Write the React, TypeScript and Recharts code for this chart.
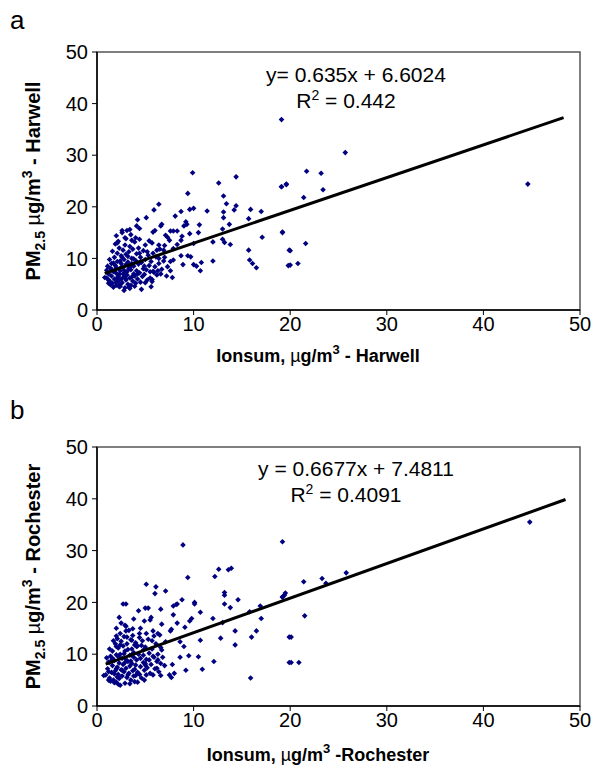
import React from 'react';
import { ScatterChart, Scatter, XAxis, YAxis, ReferenceArea } from 'recharts';

const ticks = [0, 10, 20, 30, 40, 50];

// Panel a (Harwell): [Ionsum, PM2.5]
const harwellOuter: [number, number][] = [
  [9.9, 26.6], [14.4, 25.8], [12.6, 24.6], [9.4, 22.6], [6.4, 20.5], [5.9, 19.4], [13.1, 22.1], [13.4, 20.6],
  [14.4, 20.2], [14.2, 19.4], [13.1, 19.0], [11.4, 19.2], [9.6, 19.5], [10.0, 19.7], [8.7, 19.1], [8.1, 18.2],
  [13.1, 17.9], [15.9, 19.5], [17.0, 19.1], [15.7, 17.7], [19.1, 23.9], [19.6, 24.3], [19.2, 15.0], [19.9, 11.6],
  [19.8, 8.6], [17.1, 14.1], [15.7, 11.6], [15.8, 9.7], [16.1, 9.0], [16.5, 8.2], [13.8, 12.7], [13.0, 13.7],
  [13.2, 13.1], [12.0, 13.2], [12.0, 9.5], [13.7, 16.6], [13.0, 15.7], [10.6, 16.5], [10.5, 15.0], [9.2, 17.1],
  [9.0, 16.3], [9.3, 16.6], [9.6, 14.8], [10.0, 12.9], [9.4, 10.5], [9.7, 10.3], [8.9, 8.8], [10.0, 8.8],
  [10.3, 8.5], [10.8, 9.2], [10.7, 7.6], [8.7, 10.5], [8.7, 13.5], [8.8, 14.3], [8.3, 12.7], [7.9, 11.9],
  [7.6, 15.3], [8.3, 15.3], [7.9, 15.3], [7.3, 14.1], [7.5, 13.5], [7.1, 14.5], [6.7, 16.6], [6.6, 16.3],
  [6.0, 15.4], [5.8, 15.1], [5.1, 17.9], [4.2, 17.5], [4.1, 16.3], [3.4, 15.6], [2.6, 15.4], [3.1, 15.4],
  [2.9, 14.0], [3.6, 13.5], [4.4, 13.7], [2.1, 13.0], [5.4, 13.4], [5.7, 13.0], [6.4, 12.6], [6.9, 11.6],
  [6.2, 11.6], [5.2, 11.3], [6.4, 10.0], [7.0, 10.2], [7.6, 9.4], [7.9, 9.7], [7.3, 8.4], [7.6, 7.6],
  [7.2, 6.6], [7.8, 6.3], [6.6, 7.0], [5.7, 5.9], [5.8, 7.5], [5.6, 4.5], [5.0, 5.3], [3.4, 4.2],
  [2.3, 4.5], [1.2, 5.2], [0.8, 6.3], [1.0, 7.7],
  [44.6, 24.4], [19.1, 36.9], [25.7, 30.5], [21.7, 26.9], [23.2, 26.5], [23.4, 23.3], [19.1, 23.9], [19.6, 24.4],
  [21.4, 21.8], [19.2, 15.1], [20.0, 11.5], [21.6, 12.9], [20.0, 8.7], [20.8, 9.0],
];

const harwellCluster: [number, number][] = [
  [1.0, 6.2], [1.2, 7.0], [1.3, 5.6], [1.4, 8.1], [1.5, 6.6], [1.5, 9.0], [1.6, 5.2], [1.7, 7.4], [1.8, 10.2],
  [1.8, 6.0], [1.9, 8.6], [2.0, 4.8], [2.0, 7.1], [2.1, 11.0], [2.1, 9.4], [2.2, 5.6], [2.2, 6.5], [2.3, 8.0],
  [2.3, 12.0], [2.4, 7.6], [2.4, 4.6], [2.5, 10.5], [2.5, 9.0], [2.5, 6.0], [2.6, 5.3], [2.6, 8.4], [2.7, 11.6],
  [2.7, 7.0], [2.8, 6.4], [2.8, 9.8], [2.9, 4.3], [2.9, 12.6], [3.0, 8.8], [3.0, 5.8], [3.0, 10.8], [3.1, 7.4],
  [3.1, 6.8], [3.2, 9.3], [3.2, 5.0], [3.3, 11.3], [3.3, 8.0], [3.4, 6.2], [3.4, 12.3], [3.5, 7.8], [3.5, 4.8],
  [3.6, 10.0], [3.6, 9.0], [3.7, 5.6], [3.7, 11.8], [3.8, 7.0], [3.8, 8.5], [3.9, 6.6], [3.9, 13.2], [4.0, 9.6],
  [4.0, 5.2], [4.1, 10.9], [4.1, 7.6], [4.2, 6.0], [4.3, 8.9], [4.3, 12.0], [4.4, 7.2], [4.5, 5.4], [4.5, 10.2],
  [4.6, 9.2], [4.7, 6.5], [4.8, 11.5], [4.8, 8.0], [4.9, 6.9], [5.0, 9.8], [5.0, 12.6], [5.1, 7.8], [5.2, 5.8],
  [5.3, 10.6], [5.4, 8.6], [5.5, 6.2], [5.6, 9.4], [5.8, 11.0], [5.9, 7.3], [6.0, 8.4], [6.1, 10.3], [6.2, 6.8],
  [6.4, 9.0], [6.5, 11.8], [6.7, 7.9], [6.9, 9.5], [7.0, 12.5], [1.1, 8.5], [1.3, 9.8], [1.6, 11.4], [1.9, 12.8],
  [2.2, 13.3], [2.0, 14.4], [2.6, 15.0], [3.0, 13.8], [3.5, 14.6], [4.0, 14.0], [4.4, 15.8], [1.4, 4.9], [1.7, 4.4],
  [2.4, 5.0], [3.3, 4.4], [3.9, 4.6], [4.6, 4.0], [2.8, 3.8], [1.2, 5.8], [2.1, 6.2], [2.9, 6.9], [3.6, 6.4],
  [4.2, 7.0], [2.4, 9.5], [3.2, 10.4], [4.4, 11.0], [2.0, 8.2], [2.8, 7.7], [3.4, 8.3], [1.7, 9.1], [3.8, 9.9],
  [2.6, 10.2], [1.5, 7.9], [2.3, 6.9], [3.0, 6.0], [4.9, 8.5], [5.5, 7.4], [6.3, 7.6], [5.7, 5.5], [2.0, 5.4],
  [1.8, 7.6],
];

// Panel b (Rochester)
const rochesterOuter: [number, number][] = [
  [9.4, 24.8], [5.1, 23.5], [6.1, 23.0], [6.0, 21.7], [7.1, 22.2], [12.6, 26.4], [12.2, 25.0], [13.6, 26.3],
  [13.9, 26.6], [13.2, 21.9], [13.2, 21.4], [14.6, 20.5], [13.2, 19.7], [13.8, 19.0], [15.8, 18.2], [16.9, 19.3],
  [17.0, 16.9], [19.2, 21.0], [19.4, 21.4], [19.9, 13.3], [19.9, 8.4], [15.9, 5.4], [16.0, 13.3], [16.5, 14.5],
  [14.3, 14.5], [14.3, 11.8], [12.8, 13.1], [13.0, 16.1], [12.0, 16.9], [12.1, 8.6], [10.9, 7.1], [10.5, 9.5],
  [10.7, 12.7], [10.1, 20.0], [10.1, 19.7], [10.7, 18.1], [9.8, 16.9], [9.6, 16.4], [9.1, 15.2], [8.8, 20.5],
  [8.2, 19.6], [8.3, 19.7], [7.9, 19.3], [7.9, 17.6], [8.3, 16.0], [7.7, 14.8], [7.6, 14.5], [8.6, 12.4],
  [9.0, 11.5], [8.6, 9.4], [9.5, 9.7], [9.2, 6.9], [7.8, 8.0], [7.5, 6.0], [7.7, 5.5], [8.0, 6.3],
  [6.6, 5.9], [6.6, 8.2], [6.3, 8.9], [6.2, 7.3], [6.7, 10.8], [6.5, 13.7], [6.7, 15.8], [6.6, 18.7],
  [5.0, 18.9], [5.3, 18.9], [4.3, 18.4], [4.9, 16.4], [5.5, 16.6], [5.6, 17.1], [5.8, 14.5], [6.3, 14.0],
  [5.1, 14.0], [5.7, 12.6], [3.0, 19.7], [2.7, 19.7], [2.3, 17.1], [2.9, 15.6], [3.0, 14.5], [3.7, 14.9],
  [4.4, 14.0], [4.1, 11.5], [4.8, 9.8], [5.4, 8.9], [5.9, 9.4], [5.0, 7.9], [5.8, 6.0], [5.1, 6.0],
  [4.9, 5.0], [3.9, 4.7], [3.8, 5.8], [2.2, 4.2], [1.8, 4.5], [1.2, 5.0], [0.7, 5.9], [1.0, 9.3],
  [1.3, 8.4], [2.0, 13.5], [2.0, 11.5], [3.6, 12.7], [8.9, 31.1],
  [44.8, 35.5], [19.2, 31.7], [21.4, 24.0], [23.3, 24.6], [23.7, 23.7], [25.8, 25.7], [19.2, 21.1], [19.5, 21.8],
  [21.5, 17.4], [20.1, 13.3], [20.1, 8.4], [20.9, 8.4],
];

const rochesterCluster: [number, number][] = [
  [0.9, 6.0], [1.1, 7.2], [1.2, 8.5], [1.3, 5.4], [1.4, 9.6], [1.5, 6.5], [1.6, 7.8], [1.6, 10.6], [1.7, 5.0],
  [1.8, 8.8], [1.9, 6.8], [1.9, 12.0], [2.0, 4.6], [2.0, 9.9], [2.1, 7.5], [2.1, 13.0], [2.2, 6.1], [2.2, 11.2],
  [2.3, 8.3], [2.3, 5.3], [2.4, 10.0], [2.4, 14.0], [2.5, 7.0], [2.5, 12.5], [2.6, 9.2], [2.6, 5.8], [2.7, 11.6],
  [2.7, 8.0], [2.8, 6.6], [2.8, 13.4], [2.9, 10.6], [2.9, 4.4], [3.0, 9.0], [3.0, 7.3], [3.1, 12.0], [3.1, 5.5],
  [3.2, 8.6], [3.2, 10.9], [3.3, 6.3], [3.3, 14.6], [3.4, 9.8], [3.4, 7.7], [3.5, 12.8], [3.5, 5.0], [3.6, 11.0],
  [3.6, 8.2], [3.7, 6.8], [3.7, 13.6], [3.8, 9.4], [3.8, 10.3], [3.9, 7.1], [4.0, 12.2], [4.0, 5.9], [4.1, 8.9],
  [4.2, 11.6], [4.2, 6.5], [4.3, 10.0], [4.4, 13.2], [4.5, 7.6], [4.5, 9.2], [4.6, 5.4], [4.7, 12.6], [4.8, 8.4],
  [4.8, 10.8], [4.9, 6.9], [5.0, 11.4], [5.1, 9.0], [5.2, 7.4], [5.3, 12.9], [5.4, 10.2], [5.5, 6.3], [5.6, 8.0],
  [5.7, 11.0], [5.8, 9.6], [6.0, 7.2], [6.1, 12.0], [6.3, 10.0], [6.4, 6.6], [6.6, 11.3], [6.8, 9.4], [7.0, 7.8],
  [7.1, 12.4], [1.3, 11.0], [1.7, 12.6], [2.0, 15.0], [2.5, 16.0], [3.0, 15.4], [3.8, 16.8], [4.5, 15.0], [1.4, 4.8],
  [2.4, 4.0], [3.4, 4.3], [4.2, 4.6], [1.8, 6.2], [2.6, 6.9], [3.2, 6.0], [2.2, 9.5], [2.9, 8.4], [3.6, 9.9],
  [2.4, 11.8], [3.1, 13.3], [4.6, 11.7], [5.9, 13.5], [1.5, 8.8], [2.0, 7.2], [2.8, 10.1], [3.9, 11.8], [1.2, 6.6],
  [4.0, 7.9], [5.0, 8.2], [6.2, 8.6], [2.1, 5.6], [1.6, 9.2], [3.5, 8.7], [4.4, 6.1],
];

// Linear trendlines as reported on the chart
const trendHarwell = { slope: 0.635, intercept: 6.6024, from: 0.8, to: 48.3 };
const trendRochester = { slope: 0.6677, intercept: 7.4811, from: 0.9, to: 48.5 };

const toPoints = (arr: [number, number][]) => arr.map(([x, y]) => ({ x, y }));
const trendPoints = (t: { slope: number; intercept: number; from: number; to: number }) => [
  { x: t.from, y: t.slope * t.from + t.intercept },
  { x: t.to, y: t.slope * t.to + t.intercept },
];

const FONT = '"Liberation Sans", Arial, sans-serif';
const NAVY = '#000080';

const Diamond = (p: any) => {
  const { cx, cy } = p;
  if (cx == null || cy == null) return <g />;
  const r = 2.8;
  return <path d={`M${cx},${cy - r}L${cx + r},${cy}L${cx},${cy + r}L${cx - r},${cy}Z`} fill={NAVY} />;
};
const NoShape = () => <g />;

type PanelProps = {
  letter: string;
  letterY: number;
  points: { x: number; y: number }[];
  trend: { x: number; y: number }[];
  eq: string;
  r2: string;
  site: string;
  xTitleSite: string;
  height: number;
  bottomMargin: number;
  xAxisHeight: number;
  eqY: number;
  xTitleY: number;
};

const Panel = ({ letter, letterY, points, trend, eq, r2, site, xTitleSite, height, bottomMargin, xAxisHeight, eqY, xTitleY }: PanelProps) => {
  const plotTop = 52;
  const plotLeft = 97;
  const plotBottom = height - bottomMargin - xAxisHeight;
  const midY = (plotTop + plotBottom) / 2;
  return (
    <div style={{ position: 'relative', width: 595, height }}>
      <ScatterChart width={595} height={height} margin={{ top: plotTop, right: 15, bottom: bottomMargin, left: plotLeft - 60 }}>
        <XAxis
          type="number"
          dataKey="x"
          domain={[0, 50]}
          ticks={ticks}
          height={xAxisHeight}
          axisLine={{ stroke: '#000', strokeWidth: 1.5 }}
          tickLine={{ stroke: '#000', strokeWidth: 1 }}
          tickSize={5}
          tickMargin={2}
          tick={{ fill: '#000', fontSize: 20, fontFamily: FONT }}
          allowDataOverflow
        />
        <YAxis
          type="number"
          dataKey="y"
          domain={[0, 50]}
          ticks={ticks}
          width={60}
          axisLine={{ stroke: '#000', strokeWidth: 1.5 }}
          tickLine={{ stroke: '#000', strokeWidth: 1 }}
          tickSize={5}
          tickMargin={4}
          tick={{ fill: '#000', fontSize: 20, fontFamily: FONT }}
          allowDataOverflow
        />
        <ReferenceArea x1={0} x2={50} y1={0} y2={50} fill="none" stroke="#555" strokeWidth={1.5} ifOverflow="visible" />
        <Scatter data={points} shape={Diamond} isAnimationActive={false} />
        <Scatter data={trend} shape={NoShape} line={{ stroke: '#000', strokeWidth: 3 }} isAnimationActive={false} />
      </ScatterChart>
      <svg width={595} height={height} style={{ position: 'absolute', left: 0, top: 0, pointerEvents: 'none' }}>
        <text x={10} y={letterY} fontSize={26} fontFamily={FONT} fill="#000">{letter}</text>
        <text x={356} y={eqY} fontSize={21} fontFamily={FONT} fill="#000" textAnchor="middle">{eq}</text>
        <text x={346} y={eqY + 26} fontSize={21} fontFamily={FONT} fill="#000" textAnchor="middle">
          R<tspan dy={-8} fontSize={14}>2</tspan><tspan dy={8}>{' = ' + r2}</tspan>
        </text>
        <text
          x={0}
          y={0}
          transform={`translate(40, ${midY}) rotate(-90)`}
          fontSize={20}
          fontWeight="bold"
          fontFamily={FONT}
          fill="#000"
          textAnchor="middle"
        >
          PM<tspan dy={5} fontSize={14}>2.5</tspan>
          <tspan dy={-5} fontWeight="normal">{' µ'}</tspan>
          <tspan>g/m</tspan>
          <tspan dy={-8} fontSize={14}>3</tspan>
          <tspan dy={8}>{' - ' + site}</tspan>
        </text>
        <text
          x={318}
          y={xTitleY}
          fontSize={18}
          fontWeight="bold"
          fontFamily={FONT}
          fill="#000"
          textAnchor="middle"
        >
          Ionsum, <tspan fontWeight="normal">µ</tspan>g/m<tspan dy={-8} fontSize={13}>3</tspan>
          <tspan dy={8}>{xTitleSite}</tspan>
        </text>
      </svg>
    </div>
  );
};

export default function App() {
  return (
    <div style={{ position: 'absolute', left: 0, top: 0, width: 595, height: 772, background: '#fff' }}>
      <div style={{ position: 'absolute', left: 0, top: 0 }}>
        <Panel
          letter="a"
          letterY={29}
          points={[...toPoints(harwellOuter), ...toPoints(harwellCluster)]}
          trend={trendPoints(trendHarwell)}
          eq="y= 0.635x + 6.6024"
          r2="0.442"
          site="Harwell"
          xTitleSite=" -  Harwell"
          height={390}
          bottomMargin={20}
          xAxisHeight={60}
          eqY={82}
          xTitleY={362}
        />
      </div>
      <div style={{ position: 'absolute', left: 0, top: 395 }}>
        <Panel
          letter="b"
          letterY={24}
          points={[...toPoints(rochesterOuter), ...toPoints(rochesterCluster)]}
          trend={trendPoints(trendRochester)}
          eq="y = 0.6677x + 7.4811"
          r2="0.4091"
          site="Rochester"
          xTitleSite=" -Rochester"
          height={377}
          bottomMargin={16}
          xAxisHeight={50}
          eqY={81}
          xTitleY={366}
        />
      </div>
    </div>
  );
}
